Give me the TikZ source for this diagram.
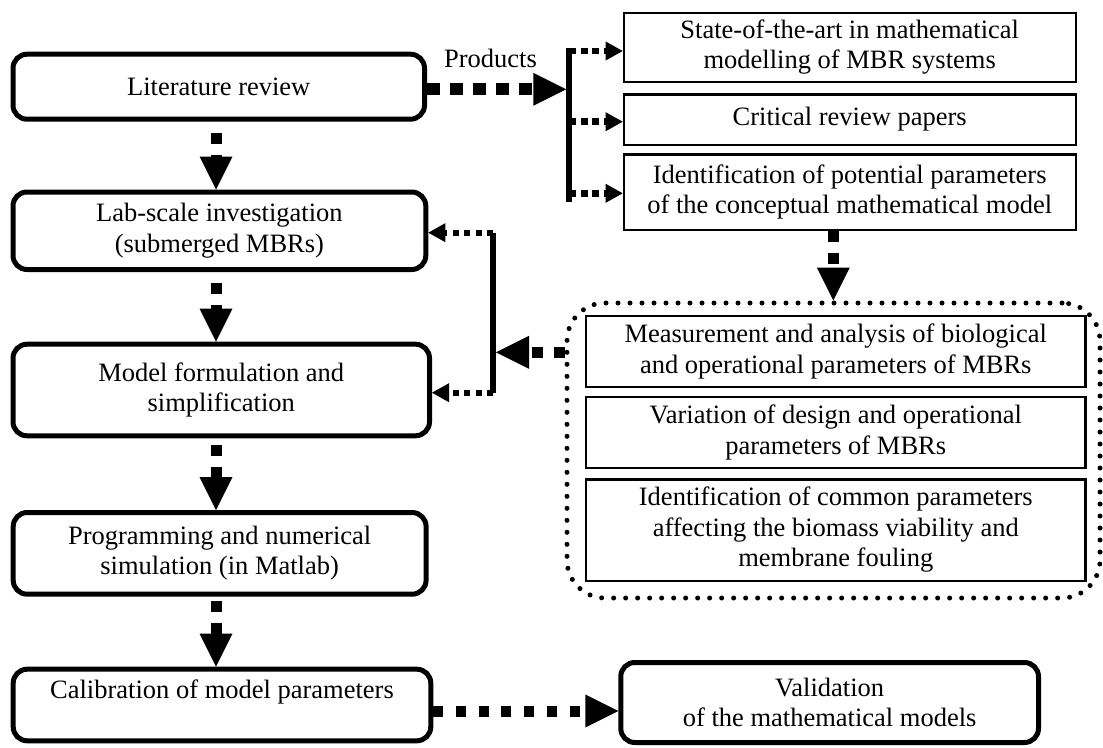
\documentclass[tikz,border=0pt]{standalone}
\usepackage{fontspec}
\setmainfont{Liberation Serif}
\usetikzlibrary{arrows.meta}
\begin{document}
\begin{tikzpicture}[x=1pt,y=-1pt,
  every node/.style={font=\fontsize{26.5}{30.5}\selectfont, align=center, inner sep=0pt},
  stage/.style={draw, line width=5pt, rounded corners=14pt},
  product/.style={draw, line width=2.2pt},
  cluster/.style={draw, line width=5pt, line cap=round, dash pattern=on 0pt off 12pt, rounded corners=38pt},
  bigflow/.style={line width=11pt, dash pattern=on 11pt off 11pt,
    -{Triangle[length=33pt,width=33pt,line width=0pt]}},
  smallflow/.style={line width=6.5pt, dash pattern=on 7pt off 4.5pt,
    -{Triangle[length=17pt,width=19pt,line width=0pt]}},
  bar/.style={line width=6pt},
]
\useasboundingbox (0,0) rectangle (1103,747);

% main sequence of work stages
\node[stage, minimum width=411.5pt, minimum height=65pt] (lit) at (218.75,86.7) {Literature review};
\node[stage, minimum width=412.8pt, minimum height=77.5pt] (lab) at (219.4,230.75) {Lab-scale investigation\\(submerged MBRs)};
\node[stage, minimum width=416.5pt, minimum height=91.6pt] (model) at (221.25,390) {Model formulation and\\simplification};
\node[stage, minimum width=412.9pt, minimum height=81.7pt] (prog) at (219.65,553.35) {Programming and numerical\\simulation (in Matlab)};
\node[stage, minimum width=417.6pt, minimum height=71.6pt] (calib) at (222,705) {};
\node (calibtext) at (222,692) {Calibration of model parameters};
\node[stage, minimum width=417.7pt, minimum height=80pt] (valid) at (829.65,702.5) {Validation\\of the mathematical models};

% products of the literature review
\node[product, minimum width=451.8pt, minimum height=68.8pt] (sota) at (849.7,47.2) {State-of-the-art in mathematical\\modelling of MBR systems};
\node[product, minimum width=451.8pt, minimum height=50.2pt] (crit) at (849.7,119.5) {Critical review papers};
\node[product, minimum width=451.8pt, minimum height=75.2pt] (ident) at (849.7,192) {Identification of potential parameters\\of the conceptual mathematical model};
\node (products) at (490.5,58) {Products};

% experimental work group
\node[cluster, minimum width=533pt, minimum height=295pt] (group) at (833.5,450.5) {};
\node[product, minimum width=499.3pt, minimum height=71.1pt] (meas) at (835.75,351.65) {Measurement and analysis of biological\\and operational parameters of MBRs};
\node[product, minimum width=499.3pt, minimum height=71.1pt] (vari) at (835.75,432.65) {Variation of design and operational\\parameters of MBRs};
\node[product, minimum width=499.3pt, minimum height=101.2pt] (common) at (835.75,530) {Identification of common parameters\\affecting the biomass viability and\\membrane fouling};

% junction points
\coordinate (hub) at (569.3,89.3);
\coordinate (bartop) at (569.3,48);
\coordinate (barbot) at (569.3,201.7);
\coordinate (pa) at (569.3,51);
\coordinate (pb) at (569.3,121.7);
\coordinate (pc) at (569.3,193.3);
\coordinate (fbtop) at (493.3,232.7);
\coordinate (fbbot) at (493.3,392.7);
\coordinate (fbmid) at (493.3,352.3);
\coordinate (down) at (833.3,0);
\coordinate (col) at (216,0);

% products distribution bar
\draw[bar] (bartop) -- (barbot);
\draw[bigflow, line width=12pt, dash pattern=on 13pt off 10pt, shorten >=3pt] (lit.east |- hub) -- (hub);
\draw[smallflow] (pa) -- (sota.west |- pa);
\draw[smallflow] (pb) -- (crit.west |- pb);
\draw[smallflow] (pc) -- (ident.west |- pc);

% feedback from the experiments
\draw[bar, line width=5.7pt] (fbtop) -- (fbbot);
\draw[smallflow, line width=6pt, dash pattern=on 6pt off 5.5pt] (fbtop) -- (lab.east |- fbtop);
\draw[smallflow, line width=6pt, dash pattern=on 6pt off 5.5pt] (fbbot) -- (model.east |- fbbot);
\draw[bigflow, shorten >=2.8pt] (group.west |- fbmid) -- (fbmid);
\draw[bigflow] (ident.south -| down) -- (group.north -| down);

% main sequence arrows
\draw[bigflow, dash phase=11pt] (lit.south -| col) -- (lab.north -| col);
\draw[bigflow, dash phase=11pt] (lab.south -| col) -- (model.north -| col);
\draw[bigflow, dash phase=15pt] (model.south -| col) -- (prog.north -| col);
\draw[bigflow, dash phase=18pt] (prog.south -| col) -- (calib.north -| col);
\draw[bigflow, dash pattern=on 10pt off 12.7pt] (calib.east |- 0,711) -- (valid.west |- 0,711);
\end{tikzpicture}
\end{document}
